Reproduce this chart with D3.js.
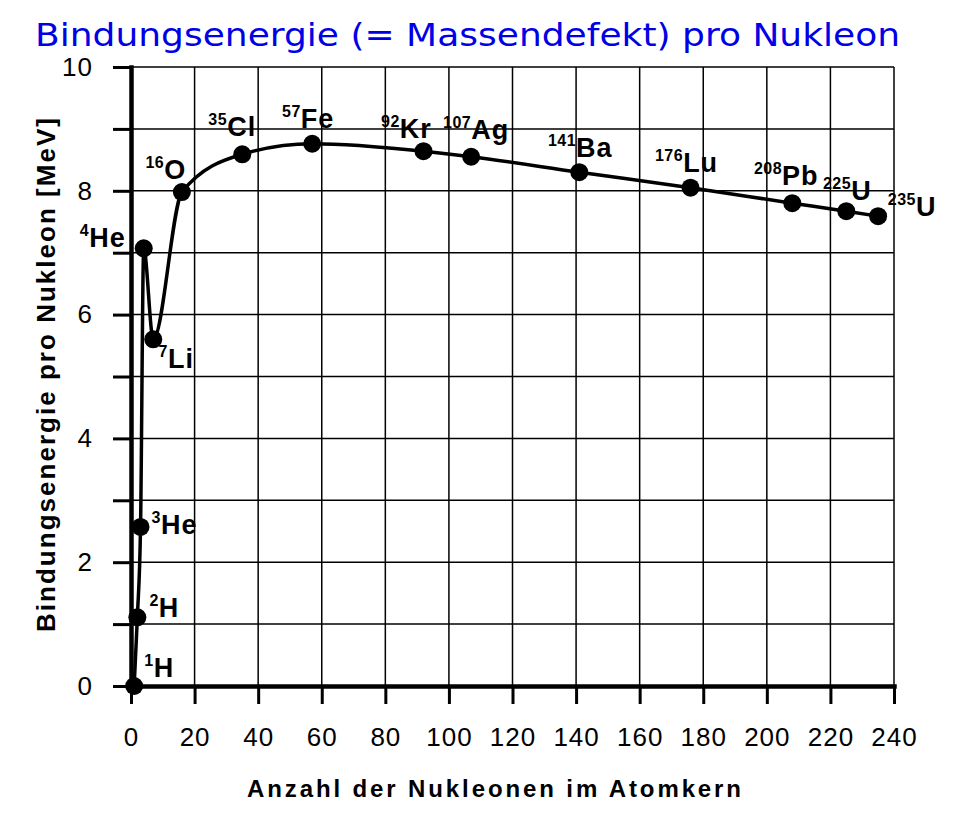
<!DOCTYPE html>
<html>
<head>
<meta charset="utf-8">
<script src="https://cdn.jsdelivr.net/npm/d3@7"></script>
<style>
  body { margin: 0; background: #fff; }
  svg { display: block; }
</style>
</head>
<body>
<div id="chart"></div>
<script>
// data
const massNumbers = [1, 2, 3, 4, 7, 16, 35, 57, 92, 107, 141, 176, 208, 225, 235]
const bindingEnergy = [0, 1.11, 2.57, 7.07, 5.6, 7.98, 8.59, 8.76, 8.64, 8.55, 8.30, 8.05, 7.80, 7.67, 7.59]
const elements = ["H", "H", "He", "He", "Li", "O", "Cl", "Fe", "Kr", "Ag", "Ba", "Lu", "Pb", "U", "U"]
const xTicks = [0, 20, 40, 60, 80, 100, 120, 140, 160, 180, 200, 220, 240]
const yTicks = [0, 1, 2, 3, 4, 5, 6, 7, 8, 9, 10]

// label placement relative to the dot (dx, dy in px, text centred)
const labelOffsets = [
  [25, -9], [27, 0], [34, 7], [-41, -1], [23, 29], [-16, -13], [-10, -18], [-4, -16],
  [-17, -13], [5, -18], [1, -15], [-4, -16], [-6, -18], [1, -11], [34, 0]
]

const width = 959, height = 825

const svg = d3.select("#chart")
  .append("svg")
  .attr("width", width)
  .attr("height", height)

const x = d3.scaleLinear().domain([0, 240]).range([131, 894])
const y = d3.scaleLinear().domain([0, 10]).range([686, 67])

// title
svg.append("text")
  .attr("x", 35)
  .attr("y", 46)
  .attr("textLength", 865)
  .attr("lengthAdjust", "spacingAndGlyphs")
  .style("font-family", "'DejaVu Sans', Verdana, sans-serif")
  .style("font-size", "32px")
  .style("fill", "#0000e6")
  .text("Bindungsenergie (= Massendefekt) pro Nukleon")

// grid
svg.append("g")
  .selectAll("line")
  .data(yTicks.slice(1))
  .join("line")
  .attr("x1", x(0)).attr("x2", x(240))
  .attr("y1", d => y(d)).attr("y2", d => y(d))
  .attr("stroke", "#000")
  .attr("stroke-width", 1.5)

svg.append("g")
  .selectAll("line")
  .data(xTicks.slice(1))
  .join("line")
  .attr("x1", d => x(d)).attr("x2", d => x(d))
  .attr("y1", y(0)).attr("y2", y(10))
  .attr("stroke", "#000")
  .attr("stroke-width", 1.5)

// axes
svg.append("g")
  .attr("transform", `translate(${x(0)},0)`)
  .call(d3.axisLeft(y)
    .tickValues(yTicks)
    .tickSize(18)
    .tickSizeOuter(0)
    .tickPadding(20)
    .tickFormat(d => d % 2 === 0 ? d : ""))

svg.append("g")
  .attr("transform", `translate(0,${y(0)})`)
  .call(d3.axisBottom(x)
    .tickValues(xTicks)
    .tickSize(18)
    .tickSizeOuter(0)
    .tickPadding(24))

svg.selectAll(".domain").attr("stroke-width", 4.5).attr("stroke-linecap", "square")
svg.selectAll(".tick line").attr("stroke-width", 3)
svg.selectAll(".tick text")
  .style("font-family", "'Liberation Sans', Arial, sans-serif")
  .style("font-size", "26px")
  .style("letter-spacing", "1px")
  .attr("fill", "#000")

// axis titles
svg.append("text")
  .attr("x", 494)
  .attr("y", 797)
  .attr("text-anchor", "middle")
  .attr("textLength", 494)
  .attr("lengthAdjust", "spacing")
  .style("font-family", "'Liberation Sans', Arial, sans-serif")
  .style("font-weight", "bold")
  .style("font-size", "24px")
  .text("Anzahl der Nukleonen im Atomkern")

svg.append("text")
  .attr("transform", "translate(55,375) rotate(-90)")
  .attr("text-anchor", "middle")
  .attr("textLength", 514)
  .attr("lengthAdjust", "spacing")
  .style("font-family", "'Liberation Sans', Arial, sans-serif")
  .style("font-weight", "bold")
  .style("font-size", "26px")
  .text("Bindungsenergie pro Nukleon  [MeV]")

// curve
const points = massNumbers.map((a, i) => ({ a: a, e: bindingEnergy[i], el: elements[i], off: labelOffsets[i] }))

const line = d3.line()
  .x(d => x(d.a))
  .y(d => y(d.e))
  .curve(d3.curveMonotoneX)

svg.append("path")
  .datum(points)
  .attr("d", line)
  .attr("fill", "none")
  .attr("stroke", "#000")
  .attr("stroke-width", 3.5)

svg.append("g")
  .selectAll("circle")
  .data(points)
  .join("circle")
  .attr("cx", d => x(d.a))
  .attr("cy", d => y(d.e))
  .attr("r", 9)
  .attr("fill", "#000")

// isotope labels with superscript mass number
const labels = svg.append("g")
  .selectAll("text")
  .data(points)
  .join("text")
  .attr("x", d => x(d.a) + d.off[0])
  .attr("y", d => y(d.e) + d.off[1])
  .attr("text-anchor", "middle")
  .style("font-family", "'Liberation Sans', Arial, sans-serif")
  .style("font-weight", "bold")
  .style("fill", "#000")

labels.append("tspan")
  .attr("dy", -11)
  .style("font-size", "16px")
  .style("letter-spacing", "0.5px")
  .text(d => d.a)

labels.append("tspan")
  .attr("dy", 11)
  .style("font-size", "27px")
  .style("letter-spacing", "1px")
  .text(d => d.el)
</script>
</body>
</html>
